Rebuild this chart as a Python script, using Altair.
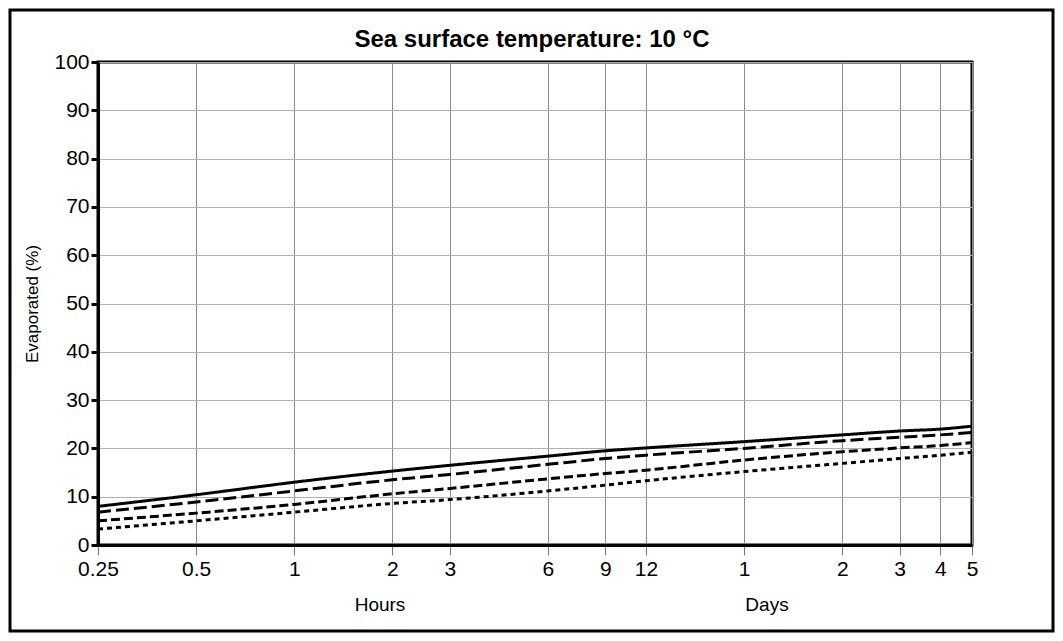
import altair as alt
import pandas as pd

# ---- data ----
hours = [0.25, 0.5, 1, 2, 3, 6, 9, 12, 24, 48, 72, 96, 120]
tick_values = [0.25, 0.5, 1, 2, 3, 6, 9, 12, 24, 48, 72, 96, 120]
series_names = ["Series 1", "Series 2", "Series 3", "Series 4"]
s1 = [8.0, 10.4, 13.0, 15.3, 16.5, 18.4, 19.5, 20.1, 21.4, 22.8, 23.6, 24.0, 24.6]
s2 = [6.8, 8.9, 11.2, 13.5, 14.6, 16.7, 17.9, 18.6, 20.0, 21.6, 22.3, 22.8, 23.3]
s3 = [5.0, 6.6, 8.4, 10.6, 11.7, 13.7, 14.8, 15.5, 17.6, 19.3, 20.1, 20.6, 21.2]
s4 = [3.3, 5.0, 6.8, 8.6, 9.4, 11.2, 12.4, 13.3, 15.2, 16.9, 17.9, 18.6, 19.2]
y_ticks = [0, 10, 20, 30, 40, 50, 60, 70, 80, 90, 100]
title_text = "Sea surface temperature: 10 °C"
y_title = "Evaporated (%)"
group_labels = ["Hours", "Days"]

rows = []
for name, vals in zip(series_names, [s1, s2, s3, s4]):
    for h, v in zip(hours, vals):
        rows.append({"hours": h, "value": v, "series": name})
df = pd.DataFrame(rows)

W, H = 874, 483
PL, PT = 90, 54
PR = 1047 - PL - W
PB = 625 - PT - H

x_enc = alt.X(
    "hours:Q",
    scale=alt.Scale(type="log", domain=[0.25, 120], nice=False),
    axis=alt.Axis(
        values=tick_values,
        title=None,
        labelExpr="datum.value >= 24 ? '' + (datum.value / 24) : '' + datum.value",
        labelFontSize=21,
        labelPadding=3,
        labelFlush=False,
        labelOverlap=False,
        tickSize=10,
        tickWidth=1,
        tickColor="#777777",
        domainColor="black",
        domainWidth=3,
        gridColor="#8c8c8c",
        gridWidth=1,
        labelColor="black",
    ),
)
y_enc = alt.Y(
    "value:Q",
    scale=alt.Scale(domain=[0, 100], nice=False),
    axis=alt.Axis(
        values=y_ticks,
        title=y_title,
        titleFontSize=17,
        titleFontWeight="normal",
        titleAngle=270,
        titleX=-66,
        titleY=H / 2,
        titleAlign="center",
        titleBaseline="middle",
        titleColor="black",
        labelFontSize=21,
        labelPadding=2,
        labelColor="black",
        tickSize=7,
        tickWidth=3,
        tickColor="black",
        domainColor="black",
        domainWidth=3,
        gridColor="#b0b0b0",
        gridWidth=1,
    ),
)

lines = alt.Chart(df).mark_line(
    strokeWidth=3, color="black", clip=True, interpolate="monotone"
).encode(
    x=x_enc,
    y=y_enc,
    strokeDash=alt.StrokeDash(
        "series:N",
        scale=alt.Scale(domain=series_names, range=[[1, 0], [13, 5], [9, 4], [5, 4]]),
        legend=None,
    ),
    detail="series:N",
)

border = alt.Chart(pd.DataFrame({"a": [0]})).mark_rect(
    filled=False, stroke="black", strokeWidth=3
).encode(
    x=alt.value(-PL + 2),
    x2=alt.value(W + PR - 2),
    y=alt.value(-PT + 2),
    y2=alt.value(H + PB - 2),
)

labels_df = pd.DataFrame({"label": group_labels, "px": [282, 669]})
group_text = alt.Chart(labels_df).mark_text(
    fontSize=19, color="black", baseline="middle", align="center"
).encode(
    x=alt.X("px:Q", scale=None),
    y=alt.value(H + 60),
    text="label:N",
)

title_mark = alt.Chart(pd.DataFrame({"t": [title_text]})).mark_text(
    fontSize=24, fontWeight="bold", color="black", baseline="middle", align="center"
).encode(
    x=alt.value(434),
    y=alt.value(-22),
    text="t:N",
)

chart = alt.layer(lines, group_text, title_mark, border).properties(
    width=W,
    height=H,
    autosize=alt.AutoSizeParams(type="none"),
    padding={"left": PL, "top": PT, "right": PR, "bottom": PB},
).configure(
    font="Liberation Sans",
).configure_view(
    stroke="black", strokeWidth=3
)

chart.save("out.html", embed_options={"renderer": "svg", "actions": False})
